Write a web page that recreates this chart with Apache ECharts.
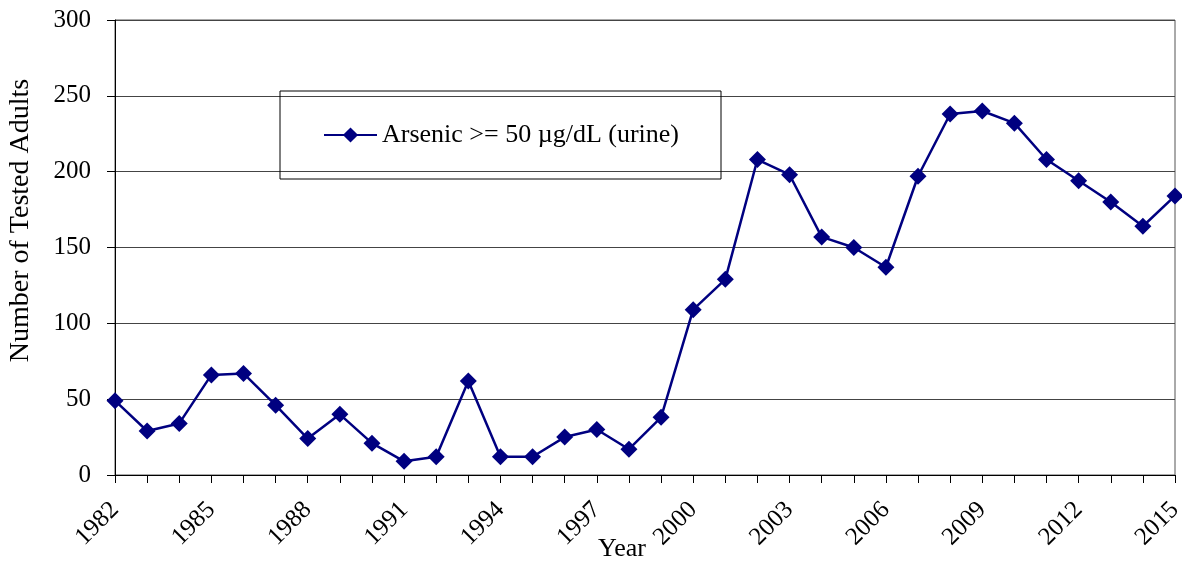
<!DOCTYPE html>
<html>
<head>
<meta charset="utf-8">
<script src="https://cdn.jsdelivr.net/npm/echarts@6/dist/echarts.min.js"></script>
<style>
html,body{margin:0;padding:0;background:#fff;}
#chart{width:1182px;height:561px;}
</style>
</head>
<body>
<div id="chart"></div>
<script>
const years = ['1982','1983','1984','1985','1986','1987','1988','1989','1990','1991','1992','1993','1994','1995','1996','1997','1998','1999','2000','2001','2002','2003','2004','2005','2006','2007','2008','2009','2010','2011','2012','2013','2014','2015'];
const arsenic = [49,29,34,66,67,46,24,40,21,9,12,62,12,12,25,30,17,38,109,129,208,198,157,150,137,197,238,240,232,208,194,180,164,184];
const seriesName = 'Arsenic >= 50 µg/dL (urine)';
const yTicks = {min: 0, max: 300, interval: 50};

const FONT = '"Liberation Serif", "Times New Roman", serif';
const chart = echarts.init(document.getElementById('chart'));
chart.setOption({
  animation: false,
  backgroundColor: '#fff',
  grid: {left: 115, right: 7, top: 20, bottom: 86, containLabel: false, outerBoundsMode: 'none', show: true, borderColor: '#555', borderWidth: 1, backgroundColor: 'transparent'},
  legend: {
    left: 280, top: 91,
    padding: [31, 42, 31, 43],
    borderColor: '#000', borderWidth: 1,
    backgroundColor: 'transparent',
    itemWidth: 53, itemHeight: 19,
    textStyle: {fontFamily: FONT, fontSize: 26, color: '#000', lineHeight: 26},
    data: [seriesName]
  },
  xAxis: {
    type: 'category',
    data: years,
    boundaryGap: false,
    name: 'Year',
    nameLocation: 'middle',
    nameGap: 61,
    nameMoveOverlap: false,
    nameTextStyle: {fontFamily: FONT, fontSize: 26, color: '#000', padding: [0, 46, 0, 0]},
    axisLine: {lineStyle: {color: '#000', width: 1}},
    axisTick: {show: true, interval: 0, length: 8, lineStyle: {color: '#000'}},
    axisLabel: {interval: 2, rotate: 45, margin: 31, fontFamily: FONT, fontSize: 25, color: '#000'},
    splitLine: {show: false}
  },
  yAxis: {
    type: 'value',
    min: yTicks.min, max: yTicks.max, interval: yTicks.interval,
    name: 'Number of Tested Adults',
    nameLocation: 'middle',
    nameGap: 80,
    nameMoveOverlap: false,
    nameTextStyle: {fontFamily: FONT, fontSize: 28, color: '#000', padding: [0, 0, 0, 54]},
    axisLine: {show: true, lineStyle: {color: '#000', width: 1}},
    axisTick: {show: true, length: 8, lineStyle: {color: '#000'}},
    axisLabel: {margin: 24, fontFamily: FONT, fontSize: 25, color: '#000'},
    splitLine: {show: true, lineStyle: {color: '#444', width: 1}}
  },
  series: [{
    name: seriesName,
    type: 'line',
    data: arsenic,
    symbol: 'diamond',
    symbolSize: 17,
    lineStyle: {color: '#000080', width: 2.5},
    itemStyle: {color: '#000080'},
    clip: false
  }]
});
</script>
</body>
</html>
